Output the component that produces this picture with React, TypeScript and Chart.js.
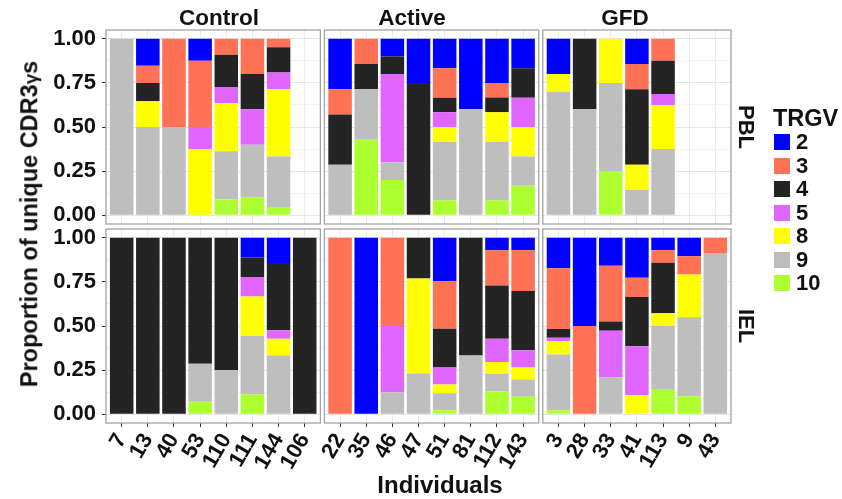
import React, { useEffect, useRef } from 'react';
import { Chart, registerables } from 'chart.js';
Chart.register(...registerables);

const W = 842;
const H = 499;
const FONT = "'Liberation Sans', Arial, Helvetica, sans-serif";

const trgvLevels = ['2', '3', '4', '5', '8', '9', '10'];
const trgvColors = ['#0000FF', '#FF7256', '#242424', '#E066FF', '#FFFF00', '#BEBEBE', '#ADFF2F'];

const controlIds = ['7', '13', '40', '53', '110', '111', '144', '106'];
const activeIds = ['22', '35', '46', '47', '51', '81', '112', '143'];
const gfdIds = ['3', '28', '33', '41', '113', '9', '43'];
const groupNames = ['Control', 'Active', 'GFD'];
const tissueNames = ['PBL', 'IEL'];
const yTickValues = [0, 0.125, 0.25, 0.375, 0.5, 0.625, 0.75, 0.875, 1];

// rows: TRGV 2, 3, 4, 5, 8, 9, 10 ; columns: individuals (null = no sample)
const pblControl = [
  [0, 0.152, 0, 0.125, 0, 0, 0, null],
  [0, 0.098, 0.5, 0.375, 0.091, 0.2, 0.048, null],
  [0, 0.104, 0, 0, 0.182, 0.2, 0.143, null],
  [0, 0, 0, 0.125, 0.091, 0.2, 0.095, null],
  [0, 0.146, 0, 0.375, 0.273, 0, 0.381, null],
  [1, 0.5, 0.5, 0, 0.273, 0.3, 0.286, null],
  [0, 0, 0, 0, 0.09, 0.1, 0.047, null],
];
const pblActive = [
  [0.286, 0, 0.1, 0.25, 0.167, 0.4, 0.25, 0.167],
  [0.143, 0.143, 0, 0, 0.167, 0, 0.083, 0],
  [0.285, 0.143, 0.1, 0.75, 0.083, 0, 0.083, 0.167],
  [0, 0, 0.5, 0, 0.083, 0, 0, 0.167],
  [0, 0, 0, 0, 0.083, 0, 0.167, 0.166],
  [0.286, 0.286, 0.1, 0, 0.334, 0.6, 0.334, 0.166],
  [0, 0.428, 0.2, 0, 0.083, 0, 0.083, 0.167],
];
const pblGfd = [
  [0.2, 0, 0, 0.143, 0, null, null],
  [0, 0, 0, 0.143, 0.125, null, null],
  [0, 0.4, 0, 0.428, 0.1875, null, null],
  [0, 0, 0, 0, 0.0625, null, null],
  [0.1, 0, 0.25, 0.143, 0.25, null, null],
  [0.7, 0.6, 0.5, 0.143, 0.375, null, null],
  [0, 0, 0.25, 0, 0, null, null],
];
const ielControl = [
  [0, 0, 0, 0, 0, 0.111, 0.143, 0],
  [0, 0, 0, 0, 0, 0, 0, 0],
  [1, 1, 1, 0.714, 0.75, 0.111, 0.381, 1],
  [0, 0, 0, 0, 0, 0.111, 0.048, 0],
  [0, 0, 0, 0, 0, 0.222, 0.095, 0],
  [0, 0, 0, 0.215, 0.25, 0.334, 0.333, 0],
  [0, 0, 0, 0.071, 0, 0.111, 0, 0],
];
const ielActive = [
  [0, 1, 0, 0, 0.246, 0, 0.07, 0.07],
  [1, 0, 0.5, 0, 0.269, 0, 0.201, 0.231],
  [0, 0, 0, 0.231, 0.22, 0.667, 0.301, 0.336],
  [0, 0, 0.375, 0, 0.096, 0, 0.132, 0.098],
  [0, 0, 0, 0.538, 0.051, 0, 0.068, 0.068],
  [0, 0, 0.125, 0.231, 0.096, 0.333, 0.098, 0.098],
  [0, 0, 0, 0, 0.022, 0, 0.13, 0.099],
];
const ielGfd = [
  [0.173, 0.5, 0.158, 0.226, 0.071, 0.105, 0],
  [0.344, 0.5, 0.316, 0.109, 0.071, 0.103, 0.086],
  [0.049, 0, 0.053, 0.28, 0.286, 0, 0],
  [0.021, 0, 0.263, 0.276, 0, 0, 0],
  [0.075, 0, 0, 0.109, 0.071, 0.242, 0],
  [0.315, 0, 0.21, 0, 0.358, 0.449, 0.914],
  [0.023, 0, 0, 0, 0.143, 0.101, 0],
];

// layout (pixels)
const colEdges = [[106, 320.4], [324.4, 538.8], [542.8, 731]];
const rowEdges = [[30, 224], [229, 423]];
const stripCenters = [219, 412, 625];

const groupIds = [controlIds, activeIds, gfdIds];
const panelValues = [[pblControl, pblActive, pblGfd], [ielControl, ielActive, ielGfd]];

const isMajor = (v: number) => Math.abs(v * 4 - Math.round(v * 4)) < 1e-6;

const borderPlugin = {
  id: 'panelBorder',
  afterDraw(chart: any) {
    const { ctx, chartArea } = chart;
    ctx.save();
    ctx.strokeStyle = '#a3a3a3';
    ctx.lineWidth = 1.3;
    ctx.strokeRect(chartArea.left, chartArea.top, chartArea.right - chartArea.left, chartArea.bottom - chartArea.top);
    ctx.restore();
  },
};

function Panel(props: { ids: string[]; values: (number | null)[][]; rect: number[]; showY: boolean; showX: boolean }) {
  const ref = useRef<HTMLCanvasElement>(null);
  useEffect(() => {
    const { ids, values, rect, showY, showX } = props;
    const [l, t, r, b] = rect;
    const yW = showY ? 60 : 0;
    const xH = showX ? 60 : 0;
    const datasets = trgvLevels
      .map((lvl, k) => ({
        label: lvl,
        data: ids.map((id, i) => ({ x: i, y: values[k][i] })),
        backgroundColor: trgvColors[k],
        borderWidth: 0,
        barPercentage: 0.9,
        categoryPercentage: 1,
      }))
      .reverse();
    const chart = new Chart(ref.current as HTMLCanvasElement, {
      type: 'bar',
      data: { datasets } as any,
      options: {
        responsive: false,
        animation: false,
        devicePixelRatio: 1,
        events: [],
        layout: { padding: { left: l - yW, top: t, right: W - r, bottom: H - b - xH } },
        plugins: { legend: { display: false }, tooltip: { enabled: false } },
        scales: {
          x: {
            type: 'linear',
            offset: false,
            stacked: true,
            min: -0.6,
            max: ids.length - 0.4,
            afterBuildTicks: (s: any) => {
              s.ticks = ids.map((_, i) => ({ value: i }));
            },
            afterFit: (s: any) => {
              s.height = xH;
              s.paddingLeft = 0;
              s.paddingRight = 0;
            },
            grid: {
              offset: false,
              color: '#ebebeb',
              lineWidth: 1,
              drawTicks: showX,
              tickLength: 4,
              tickColor: '#333333',
              tickWidth: 1,
            },
            border: { display: false },
            ticks: {
              display: showX,
              autoSkip: false,
              maxRotation: 60,
              minRotation: 60,
              padding: 2,
              color: '#111111',
              font: { family: FONT, size: 22, weight: 'bold' },
              callback: (v: any) => ids[v] ?? '',
            },
          },
          y: {
            type: 'linear',
            stacked: true,
            min: -0.05,
            max: 1.05,
            afterBuildTicks: (s: any) => {
              s.ticks = yTickValues.map((v) => ({ value: v }));
            },
            afterFit: (s: any) => {
              s.width = yW;
              s.paddingTop = 0;
              s.paddingBottom = 0;
            },
            grid: {
              color: (c: any) => (isMajor(c.tick.value) ? '#e6e6e6' : '#f3f3f3'),
              lineWidth: 1,
              drawTicks: showY,
              tickLength: 4,
              tickColor: (c: any) => (isMajor(c.tick.value) ? '#333333' : 'rgba(0,0,0,0)'),
              tickWidth: 1,
            },
            border: { display: false },
            ticks: {
              display: showY,
              autoSkip: false,
              padding: 6,
              color: '#111111',
              font: { family: FONT, size: 22, weight: 'bold' },
              callback: (v: any) => (isMajor(v) ? Number(v).toFixed(2) : ''),
            },
          },
        },
      } as any,
      plugins: [borderPlugin],
    });
    return () => chart.destroy();
  }, []);
  return <canvas ref={ref} width={W} height={H} style={{ position: 'absolute', left: 0, top: 0 }} />;
}

const textBase: React.CSSProperties = {
  position: 'absolute',
  fontFamily: FONT,
  fontWeight: 'bold',
  color: '#111',
  whiteSpace: 'nowrap',
  lineHeight: 1,
};

export default function App() {
  const panels: any[] = [];
  rowEdges.forEach((row, ri) => {
    colEdges.forEach((col, ci) => {
      panels.push(
        <Panel
          key={`${ri}-${ci}`}
          ids={groupIds[ci]}
          values={panelValues[ri][ci]}
          rect={[col[0], row[0], col[1], row[1]]}
          showY={ci === 0}
          showX={ri === 1}
        />
      );
    });
  });
  return (
    <div style={{ position: 'absolute', left: 0, top: 0, width: W, height: H, background: '#fff', overflow: 'hidden' }}>
      {panels}
      {groupNames.map((g, ci) => (
        <div
          key={g}
          style={{ ...textBase, fontSize: 22.5, left: stripCenters[ci], top: 18, transform: 'translate(-50%, -50%)' }}
        >
          {g}
        </div>
      ))}
      {tissueNames.map((t, ri) => (
        <div
          key={t}
          style={{ ...textBase, fontSize: 22, left: 746, top: (rowEdges[ri][0] + rowEdges[ri][1]) / 2, transform: 'translate(-50%, -50%) rotate(90deg)' }}
        >
          {t}
        </div>
      ))}
      <div style={{ ...textBase, fontSize: 23.5, left: 30, top: 224, transform: 'translate(-50%, -50%) rotate(-90deg)' }}>
        Proportion of unique CDR3<span style={{ fontSize: '0.8em' }}>γ</span>s
      </div>
      <div style={{ ...textBase, fontSize: 24, left: 440, top: 485, transform: 'translate(-50%, -50%)' }}>Individuals</div>
      <div style={{ ...textBase, fontSize: 23.5, left: 773, top: 118.5, transform: 'translate(0, -50%)' }}>TRGV</div>
      {trgvLevels.map((lvl, k) => (
        <div key={lvl} style={{ position: 'absolute', left: 774, top: 142 + k * 23.5, transform: 'translate(0, -50%)', display: 'flex', alignItems: 'center' }}>
          <div style={{ width: 16, height: 16, background: trgvColors[k] }} />
          <div style={{ ...textBase, position: 'static', fontSize: 22, marginLeft: 6 }}>{lvl}</div>
        </div>
      ))}
    </div>
  );
}
